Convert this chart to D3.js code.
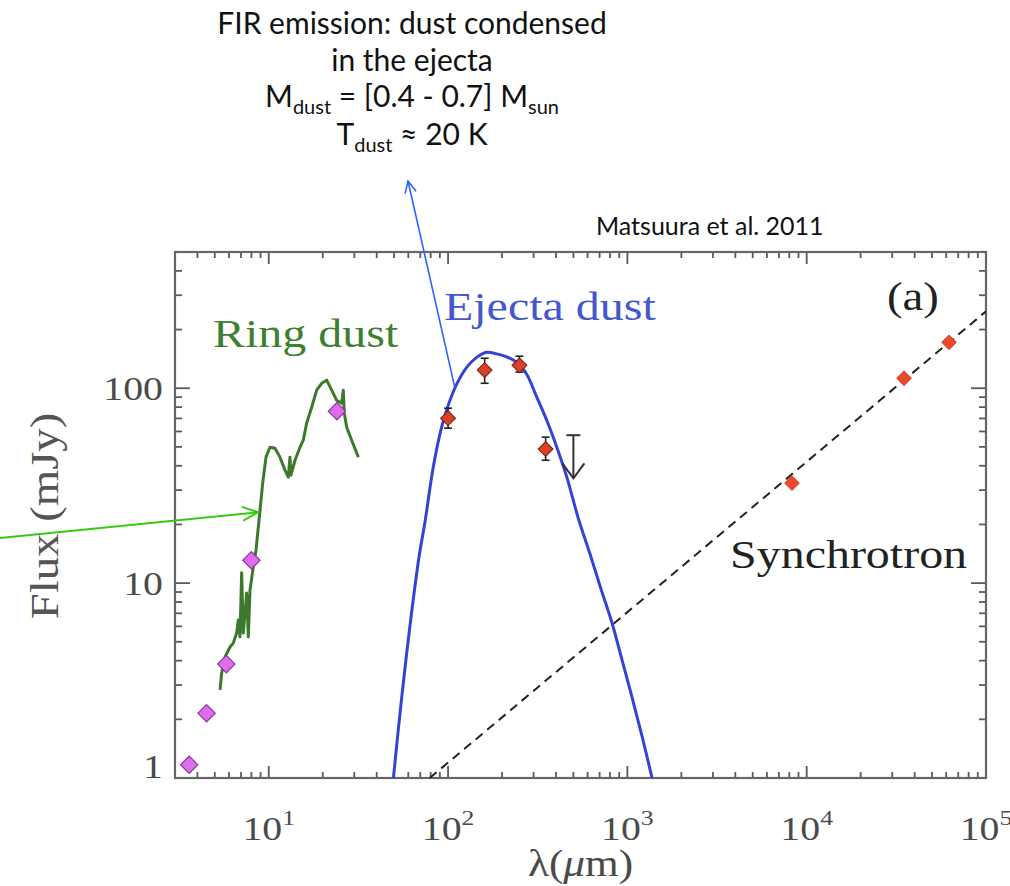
<!DOCTYPE html>
<html><head><meta charset="utf-8">
<script src="https://cdn.jsdelivr.net/npm/d3@7"></script>
<style>body{margin:0;background:#fff} svg{display:block}</style>
</head><body><svg id="c" width="1010" height="886"></svg>
<script>
// ---------------- DATA ----------------
// Ring dust spectrum (green)
const ringLambda = [5.35,5.46,5.70,6.08,6.34,6.62,6.76,6.91,7.06,7.21,7.53,7.69,7.86,8.20,8.49,8.86,9.25,9.65,10.16,10.83,11.55,12.31,12.85,13.13,13.30,14.01,14.94,15.58,16.27,17.36,18.51,19.73,21.04,22.44,23.92,25.51,26.04,26.38,27.21,29.0,31.6];
const ringFlux   = [2.83,3.45,4.17,4.70,4.92,5.54,6.46,5.30,11.3,5.54,8.89,5.29,9.21,12.1,14.8,21.8,32.6,44.3,49.8,49.2,44.3,38.0,35.0,44.3,35.8,42.7,49.8,54.1,66.2,79.9,97.7,106,110,97.7,86.7,83.8,97.7,74.5,63.1,54.1,44.3];
// Ring dust photometry (purple diamonds)
const ringPhotLambda = [3.6,4.5,5.8,8.0,24];
const ringPhotFlux   = [1.17,2.15,3.84,13.1,76.2];
// Ejecta dust model (blue curve)
const ejectaLambda = [49.0,55.0,61.0,68.7,74.3,82.7,92.2,100.3,111.7,127,144.4,164.3,186.7,212,241.5,274.5,312,355,403.5,459,532.6,619,713,821,934,1061,1207,1373,1408];
const ejectaFlux   = [0.9,2.54,5.81,13.4,20.5,39.4,63.5,82,105,128,144,153,150,145,136,118,90.2,68.5,50.0,35.1,21.5,14.1,9.31,6.24,4.03,2.60,1.64,1.0,0.9];
// FIR photometry (red diamonds with error bars)
const firLambda = [100,160,250,350];
const firFlux   = [70.2,124,131,48.7];
const firLow    = [62.4,106,121,42.7];
const firHigh   = [79,142.5,146,56.1];
// Upper limit
const limitLambda = [500];
const limitTop    = [57.4];
const limitTip    = [34.5];
// Radio photometry (red diamonds)
const radioLambda = [8280,34900,62200];
const radioFlux   = [32.6,112.5,172];
// Synchrotron power law (dashed)
const synchLambda = [79,100000];
const synchFlux   = [1,248];
// Tick labels
const xTickValues = [10,100,1000,10000,100000];
const xTickExps   = ["1","2","3","4","5"];
const yTickValues = [1,10,100];
const yTickLabels = ["1","10","100"];

// ---------------- CHART ----------------
const SX = 1.17;
const SERIF = "'Liberation Serif','Times New Roman',serif";
const SANS = "Lato, Carlito, Calibri, sans-serif";
const svg = d3.select("#c");
svg.append("rect").attr("width",1010).attr("height",886).attr("fill","#fff");

const x = d3.scaleLog().domain([3,1e5]).range([175,986]);
const y = d3.scaleLog().domain([1,500]).range([778,252]);
const [x0,x1] = x.range(), [y0,y1] = [y.range()[1], y.range()[0]];

svg.append("clipPath").attr("id","clip").append("rect")
  .attr("x",x0).attr("y",y0).attr("width",x1-x0).attr("height",y1-y0);

// ticks (inward, on all four sides) from the scales' own tick generators
const isMajor = v => Math.abs(Math.log10(v) - Math.round(Math.log10(v))) < 1e-9;
const tickCol = "#5a5a5a";
const tg = svg.append("g").attr("stroke",tickCol).attr("stroke-width",1.8);
x.ticks().forEach(v=>{
  const L = isMajor(v) ? 12 : 6, px = x(v);
  tg.append("line").attr("x1",px).attr("x2",px).attr("y1",y1).attr("y2",y1-L);
  tg.append("line").attr("x1",px).attr("x2",px).attr("y1",y0).attr("y2",y0+L);
});
y.ticks().forEach(v=>{
  const L = isMajor(v) ? 15 : 7, py = y(v);
  tg.append("line").attr("x1",x0).attr("x2",x0+L).attr("y1",py).attr("y2",py);
  tg.append("line").attr("x1",x1).attr("x2",x1-L).attr("y1",py).attr("y2",py);
});

svg.append("rect").attr("x",x0).attr("y",y0).attr("width",x1-x0).attr("height",y1-y0)
  .attr("fill","none").attr("stroke","#666").attr("stroke-width",2.2);

// serif text helper
function stext(px,py,str,size,color,anchor){
  return svg.append("text").attr("transform",`translate(${px},${py}) scale(${SX},1)`)
    .attr("font-family",SERIF).attr("font-size",size).attr("fill",color)
    .attr("text-anchor",anchor||"start").text(str);
}

// y tick labels
yTickValues.forEach((v,i)=>{
  stext(163, Math.min(y(v)+12, y1), yTickLabels[i], 34, "#4a4a4a", "end");
});
// x tick labels
xTickValues.forEach((v,i)=>{
  const t = svg.append("text").attr("transform",`translate(${x(v)},840) scale(${SX},1)`)
    .attr("font-family",SERIF).attr("font-size",34).attr("fill","#4a4a4a").attr("text-anchor","middle");
  t.append("tspan").text("10");
  t.append("tspan").attr("dy",-15).attr("font-size",22).text(xTickExps[i]);
});

// axis titles
svg.append("text").attr("transform",`translate(58,516) rotate(-90) scale(1.2,1)`)
  .attr("font-family",SERIF).attr("font-size",39).attr("fill","#555").attr("text-anchor","middle")
  .text("Flux (mJy)");
const xl = svg.append("text").attr("transform",`translate(${(x0+x1)/2},876) scale(${SX},1)`)
  .attr("font-family",SERIF).attr("font-size",37).attr("fill","#4a4a4a").attr("text-anchor","middle");
xl.append("tspan").text("λ(");
xl.append("tspan").attr("font-style","italic").text("μ");
xl.append("tspan").text("m)");

const plot = svg.append("g").attr("clip-path","url(#clip)");

// synchrotron dashed line
plot.append("path")
  .attr("d", d3.line().x(d=>x(d[0])).y(d=>y(d[1]))(d3.zip(synchLambda,synchFlux)))
  .attr("fill","none").attr("stroke","#222").attr("stroke-width",2).attr("stroke-dasharray","9,6");

// ejecta model
plot.append("path")
  .attr("d", d3.line().x(d=>x(d[0])).y(d=>y(d[1])).curve(d3.curveCatmullRom.alpha(0.5))(d3.zip(ejectaLambda,ejectaFlux)))
  .attr("fill","none").attr("stroke","#3343d6").attr("stroke-width",3);

// ring dust spectrum
plot.append("path")
  .attr("d", d3.line().x(d=>x(d[0])).y(d=>y(d[1]))(d3.zip(ringLambda,ringFlux)))
  .attr("fill","none").attr("stroke","#3b7a2a").attr("stroke-width",3).attr("stroke-linejoin","round");

// diamonds
const diamond = s => d3.symbol().type(d3.symbolSquare).size(s)();
// purple
plot.selectAll(".pd").data(d3.zip(ringPhotLambda,ringPhotFlux)).join("path")
  .attr("d",diamond(150)).attr("transform",d=>`translate(${x(d[0])},${y(d[1])}) rotate(45)`)
  .attr("fill","#e06cf0").attr("stroke","#8a3a9a").attr("stroke-width",1.2);
// FIR error bars
d3.range(firLambda.length).forEach(i=>{
  const cx = x(firLambda[i]);
  const g = plot.append("g").attr("stroke","#222").attr("stroke-width",1.6);
  g.append("line").attr("x1",cx).attr("x2",cx).attr("y1",y(firLow[i])).attr("y2",y(firHigh[i]));
  g.append("line").attr("x1",cx-4).attr("x2",cx+4).attr("y1",y(firLow[i])).attr("y2",y(firLow[i]));
  g.append("line").attr("x1",cx-4).attr("x2",cx+4).attr("y1",y(firHigh[i])).attr("y2",y(firHigh[i]));
});
plot.selectAll(".fd").data(d3.zip(firLambda,firFlux)).join("path")
  .attr("d",diamond(110)).attr("transform",d=>`translate(${x(d[0])},${y(d[1])}) rotate(45)`)
  .attr("fill","#d9412b").attr("stroke","#7a1a10").attr("stroke-width",1);
// radio
plot.selectAll(".rd").data(d3.zip(radioLambda,radioFlux)).join("path")
  .attr("d",diamond(110)).attr("transform",d=>`translate(${x(d[0])},${y(d[1])}) rotate(45)`)
  .attr("fill","#ea4a2c").attr("stroke","#c8381f").attr("stroke-width",0.8);
// upper limit
limitLambda.forEach((l,i)=>{
  const cx = x(l), ty = y(limitTop[i]), by = y(limitTip[i]);
  const g = plot.append("g").attr("stroke","#333").attr("stroke-width",2).attr("fill","none");
  g.append("line").attr("x1",cx).attr("x2",cx).attr("y1",ty).attr("y2",by);
  g.append("line").attr("x1",cx-7).attr("x2",cx+7).attr("y1",ty).attr("y2",ty);
  g.append("path").attr("d",`M${cx-11},${by-15}L${cx},${by}L${cx+11},${by-15}`);
});

// labels in plot
stext(213,347,"Ring dust",41,"#3f7f30");
stext(444,320,"Ejecta dust",41,"#4656cc");
stext(887,310,"(a)",40,"#222");
stext(730,568,"Synchrotron",41,"#222");

// annotation arrows
function arrow(ax,ay,bx,by,color,w,len,ang){
  svg.append("line").attr("x1",ax).attr("y1",ay).attr("x2",bx).attr("y2",by)
    .attr("stroke",color).attr("stroke-width",w);
  const a = Math.atan2(by-ay,bx-ax);
  const p1 = [bx-len*Math.cos(a-ang), by-len*Math.sin(a-ang)];
  const p2 = [bx-len*Math.cos(a+ang), by-len*Math.sin(a+ang)];
  svg.append("path").attr("d",`M${p1}L${bx},${by}L${p2}`).attr("fill","none")
    .attr("stroke",color).attr("stroke-width",w);
}
arrow(x(109),y(101),408,181,"#2f62ff",1.6,13,0.45);
arrow(0,538,x(8.71),y(23.1),"#33cc11",2,17,0.42);

// top annotation
const noteLines = [33.6,70.6,107,144.5];
function note(py){ return svg.append("text").attr("x",412).attr("y",py)
  .attr("font-family",SANS).attr("font-size",30).attr("fill","#111").attr("text-anchor","middle"); }
note(noteLines[0]).text("FIR emission: dust condensed");
note(noteLines[1]).text("in the ejecta");
const l3 = note(noteLines[2]);
l3.append("tspan").text("M");
l3.append("tspan").attr("dy",7).attr("font-size",20).text("dust");
l3.append("tspan").attr("dy",-7).text(" = [0.4 - 0.7] M");
l3.append("tspan").attr("dy",7).attr("font-size",20).text("sun");
const l4 = note(noteLines[3]);
l4.append("tspan").text("T");
l4.append("tspan").attr("dy",7).attr("font-size",20).text("dust");
l4.append("tspan").attr("dy",-7).text(" ≈ 20 K");

svg.append("text").attr("x",596).attr("y",235).attr("font-family",SANS).attr("font-size",25)
  .attr("fill","#111").text("Matsuura et al. 2011");
</script></body></html>
